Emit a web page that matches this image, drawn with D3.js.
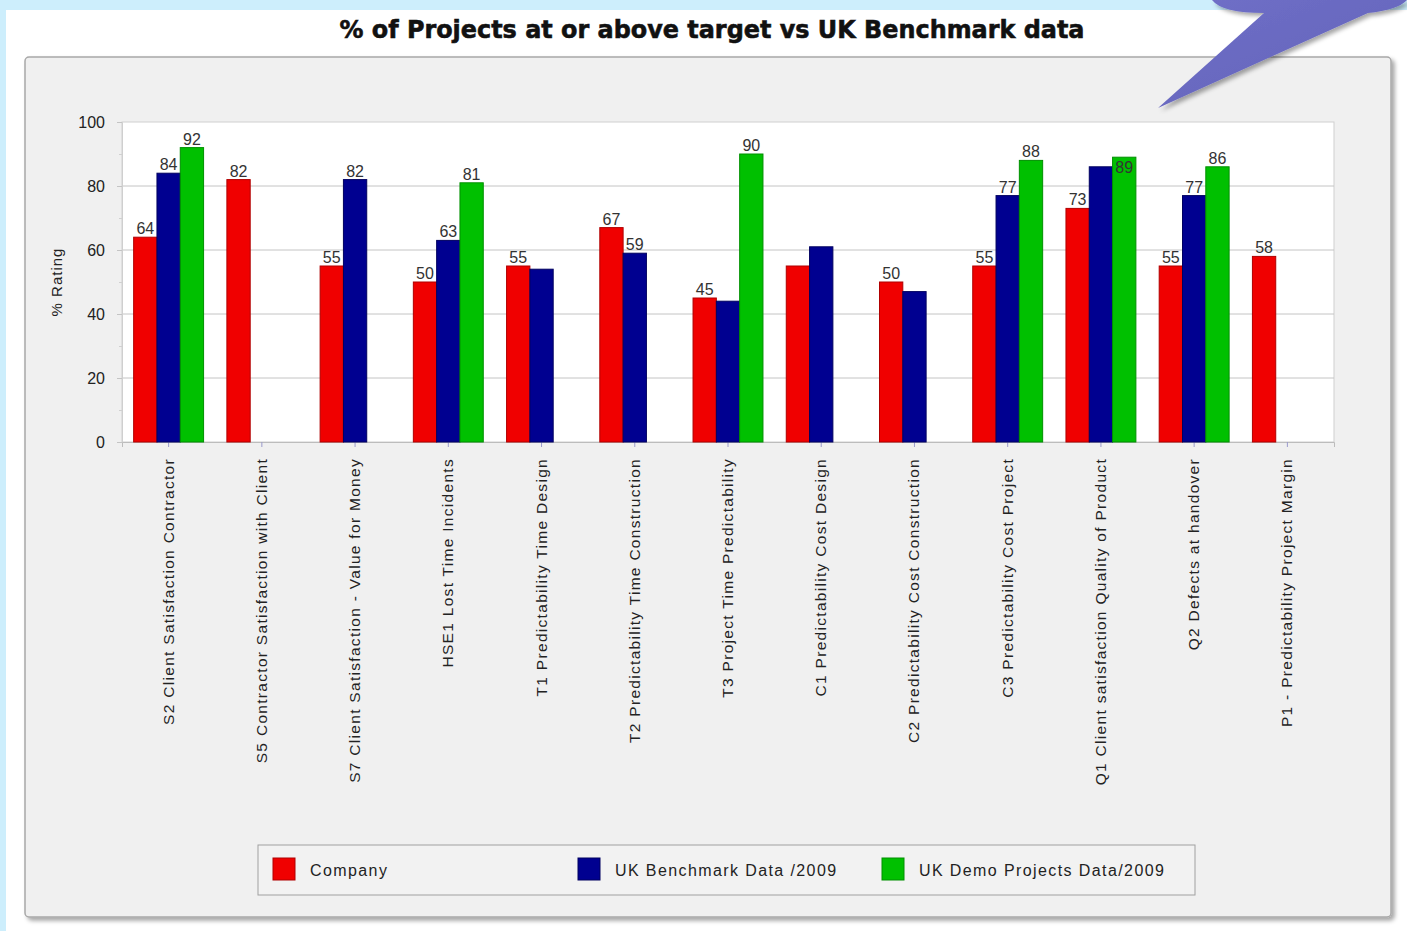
<!DOCTYPE html>
<html>
<head>
<meta charset="utf-8">
<script src="https://cdn.jsdelivr.net/npm/d3@7/dist/d3.min.js"></script>
<style>
  html, body { margin: 0; padding: 0; background: #ffffff; }
  svg { display: block; }
  text { font-family: "Liberation Sans", Arial, sans-serif; }
</style>
</head>
<body>
<svg id="chart" width="1407" height="931"></svg>
<script>
// Indicator categories along the x axis
const categories = [
  "S2 Client Satisfaction Contractor",
  "S5 Contractor Satisfaction with Client",
  "S7 Client Satisfaction - Value for Money",
  "HSE1 Lost Time Incidents",
  "T1 Predictability Time Design",
  "T2 Predictability Time Construction",
  "T3 Project Time Predictability",
  "C1 Predictability Cost Design",
  "C2 Predictability Cost Construction",
  "C3 Predictability Cost Project",
  "Q1 Client satisfaction Quality of Product",
  "Q2 Defects at handover",
  "P1 - Predictability Project Margin"
];

// % of projects at or above target (null = no data)
const company   = [64, 82, 55, 50, 55, 67, 45, 55, 50, 55, 73, 55, 58];
const benchmark = [84, null, 82, 63, 54, 59, 44, 61, 47, 77, 86, 77, null];
const demo      = [92, null, null, 81, null, null, 90, null, null, 88, 89, 86, null];

const seriesNames = ["Company", "UK Benchmark Data /2009", "UK Demo Projects Data/2009"];
const seriesColors = ["#f00000", "#000090", "#00c000"];
const seriesEdges = ["#b00000", "#000060", "#009000"];

// Value labels suppressed where they would collide with a neighbour
const hiddenLabels = ["1:4", "1:6", "0:7", "1:7", "1:8", "1:10"];
// Value labels drawn inside the top of the bar
const insideLabels = ["2:10"];

const yTicks = [0, 20, 40, 60, 80, 100];
const yTitle = "% Rating";
const title = "% of Projects at or above target vs UK Benchmark data";

const values = [company, benchmark, demo];

const svg = d3.select("#chart");

// page frame strips
svg.append("rect").attr("x", 0).attr("y", 0).attr("width", 1407).attr("height", 10).attr("fill", "#cdeefc");
svg.append("rect").attr("x", 0).attr("y", 0).attr("width", 6).attr("height", 931).attr("fill", "#cdeefc");

// title
svg.append("text")
  .attr("x", 712).attr("y", 38)
  .attr("text-anchor", "middle")
  .attr("textLength", 745)
  .attr("lengthAdjust", "spacingAndGlyphs")
  .style("font-family", "'DejaVu Sans', sans-serif")
  .style("font-weight", "bold")
  .style("font-size", "25px")
  .attr("fill", "#111")
  .attr("stroke", "#111")
  .attr("stroke-width", 0.6)
  .text(title);

// chart panel with shadow
const defs = svg.append("defs");
const sh = defs.append("filter").attr("id", "shadow").attr("x", "-5%").attr("y", "-5%").attr("width", "110%").attr("height", "110%");
sh.append("feDropShadow").attr("dx", 3).attr("dy", 3).attr("stdDeviation", 2).attr("flood-color", "#000").attr("flood-opacity", 0.35);

svg.append("rect")
  .attr("x", 25).attr("y", 57).attr("width", 1366).attr("height", 860)
  .attr("rx", 4)
  .attr("fill", "#f0f0f0")
  .attr("stroke", "#a8a8a8")
  .attr("stroke-width", 1.5)
  .attr("filter", "url(#shadow)");

// callout tail in the corner
const cg = defs.append("linearGradient").attr("id", "callout").attr("x1", 0).attr("y1", 0).attr("x2", 1).attr("y2", 1);
cg.append("stop").attr("offset", "0%").attr("stop-color", "#7070c8");
cg.append("stop").attr("offset", "100%").attr("stop-color", "#6262b8");
svg.append("path")
  .attr("d", "M1212,0 Q1222,13 1264,13 L1158,108 L1368,13 Q1398,10 1407,0 Z")
  .attr("fill", "url(#callout)")
  .attr("filter", "url(#shadow)");

// plot area
const plotLeft = 122, plotRight = 1334, plotTop = 122, plotBottom = 442;

const x = d3.scaleBand().domain(categories).range([plotLeft, plotRight]).paddingInner(0.25).paddingOuter(0.125);
const xs = d3.scaleBand().domain(d3.range(seriesNames.length)).range([0, x.bandwidth()]);
const y = d3.scaleLinear().domain([0, 100]).range([plotBottom, plotTop]);

svg.append("rect")
  .attr("x", plotLeft).attr("y", plotTop).attr("width", plotRight - plotLeft).attr("height", plotBottom - plotTop)
  .attr("fill", "#ffffff").attr("stroke", "#cfcfcf");

// gridlines
svg.append("g")
  .selectAll("line")
  .data(yTicks.filter(t => t > 0 && t < 100))
  .join("line")
  .attr("x1", plotLeft).attr("x2", plotRight)
  .attr("y1", d => y(d)).attr("y2", d => y(d))
  .attr("stroke", "#c4c4c4");

// y axis
const yAxis = d3.axisLeft(y).tickValues(yTicks).tickSize(5).tickPadding(12).tickFormat(d3.format("d"));
const ya = svg.append("g").attr("transform", `translate(${plotLeft},0)`).call(yAxis);
ya.select(".domain").attr("stroke", "#cfcfcf");
ya.selectAll(".tick line").attr("stroke", "#c4c4c4");
ya.selectAll(".tick text")
  .style("font-size", "16px")
  .attr("fill", "#222");
const yMinor = d3.axisLeft(y).tickValues(d3.range(10, 100, 20)).tickSize(3).tickFormat("");
const ym = svg.append("g").attr("transform", `translate(${plotLeft},0)`).call(yMinor);
ym.select(".domain").remove();
ym.selectAll(".tick line").attr("stroke", "#d0d0d0");

svg.append("text")
  .attr("transform", `translate(62,${(plotTop + plotBottom) / 2}) rotate(-90)`)
  .attr("text-anchor", "middle")
  .style("font-size", "15px")
  .style("letter-spacing", "1px")
  .attr("fill", "#222")
  .text(yTitle);

// x axis
const xAxis = d3.axisBottom(x).tickSize(5).tickFormat("");
const xa = svg.append("g").attr("transform", `translate(0,${plotBottom})`).call(xAxis);
xa.select(".domain").attr("stroke", "#bcbcbc");
xa.selectAll(".tick line").attr("stroke", "#9a9acc");

svg.append("g")
  .selectAll("text")
  .data(categories)
  .join("text")
  .attr("transform", d => `translate(${x(d) + x.bandwidth() / 2 + 5},${plotBottom + 16}) rotate(-90)`)
  .attr("text-anchor", "end")
  .style("font-size", "15.5px")
  .style("letter-spacing", "1.3px")
  .attr("fill", "#222")
  .text(d => d);

// bars
const barData = [];
values.forEach((arr, s) => arr.forEach((v, i) => {
  if (v != null) barData.push({ s, i, v });
}));

svg.append("g")
  .selectAll("rect")
  .data(barData)
  .join("rect")
  .attr("x", d => x(categories[d.i]) + xs(d.s))
  .attr("width", xs.bandwidth())
  .attr("y", d => y(d.v))
  .attr("height", d => y(0) - y(d.v))
  .attr("fill", d => seriesColors[d.s])
  .attr("stroke", d => seriesEdges[d.s])
  .attr("stroke-width", 1);

// value labels
svg.append("g")
  .selectAll("text")
  .data(barData.filter(d => !hiddenLabels.includes(`${d.s}:${d.i}`)))
  .join("text")
  .attr("x", d => x(categories[d.i]) + xs(d.s) + xs.bandwidth() / 2)
  .attr("y", d => insideLabels.includes(`${d.s}:${d.i}`) ? y(d.v) + 16 : y(d.v) - 3)
  .attr("text-anchor", "middle")
  .style("font-size", "16px")
  .attr("fill", "#333")
  .text(d => d.v);

// legend
const lg = svg.append("g");
lg.append("rect")
  .attr("x", 258).attr("y", 845).attr("width", 937).attr("height", 50)
  .attr("fill", "#f2f2f2").attr("stroke", "#a0a0a0");
const legendX = [273, 578, 882];
seriesNames.forEach((name, s) => {
  lg.append("rect")
    .attr("x", legendX[s]).attr("y", 858).attr("width", 22).attr("height", 22)
    .attr("fill", seriesColors[s]).attr("stroke", seriesEdges[s]);
  lg.append("text")
    .attr("x", legendX[s] + 37).attr("y", 876)
    .style("font-size", "16px")
    .style("letter-spacing", "1.4px")
    .attr("fill", "#222")
    .text(name);
});
</script>
</body>
</html>
